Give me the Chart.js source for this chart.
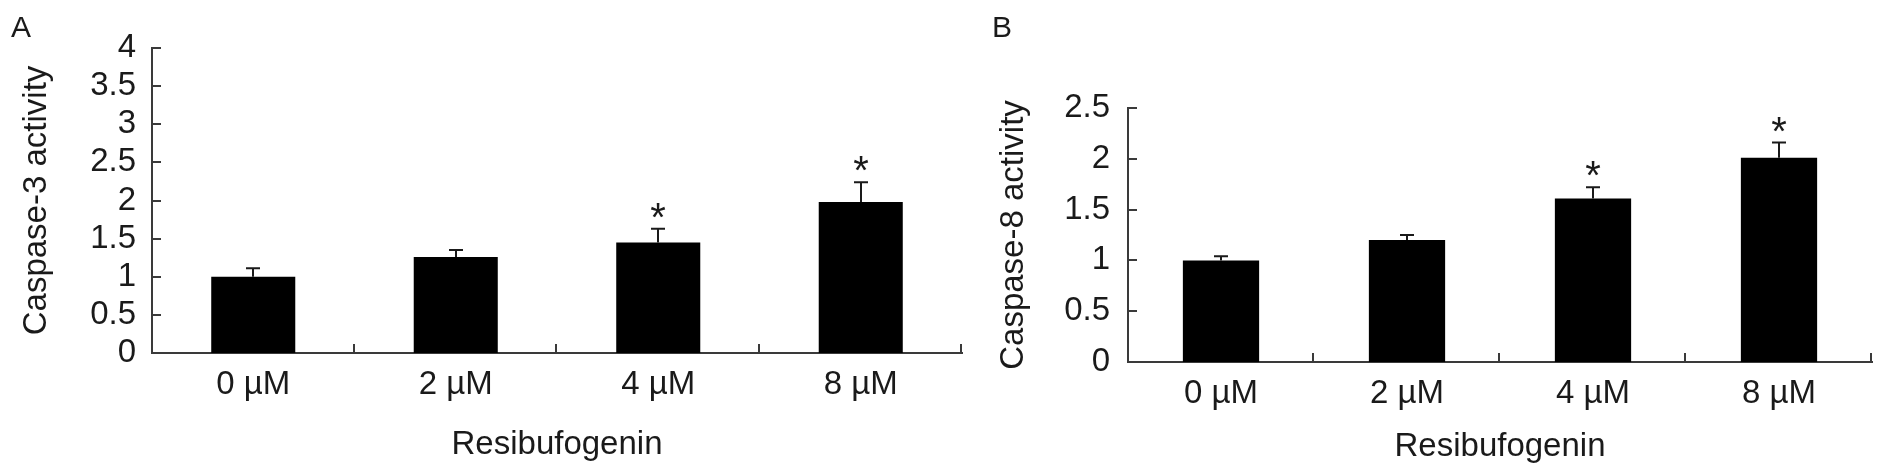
<!DOCTYPE html>
<html>
<head>
<meta charset="utf-8">
<script src="https://cdn.jsdelivr.net/npm/chart.js@4.4.1/dist/chart.umd.min.js"></script>
<style>
html,body{margin:0;padding:0;background:#fff;width:1885px;height:476px;overflow:hidden;}
.panel{position:absolute;top:0;height:476px;}
#wrapA{left:0;width:980px;}
#wrapB{left:980px;width:905px;}
.lab{position:absolute;font-family:"Liberation Sans",Arial,sans-serif;font-size:30px;color:#1a1a1a;line-height:30px;}
</style>
</head>
<body>
<div id="wrapA" class="panel"><canvas id="cA"></canvas></div>
<div id="wrapB" class="panel"><canvas id="cB"></canvas></div>
<div class="lab" style="left:11px;top:12px">A</div>
<div class="lab" style="left:992px;top:12px">B</div>
<script>
// ---- data ----
const categories = ['0 µM', '2 µM', '4 µM', '8 µM'];
const xAxisTitle = 'Resibufogenin';

const caspase3Title = 'Caspase-3 activity';
const caspase3Values = [1.00, 1.26, 1.45, 1.98];
const caspase3Errors = [0.11, 0.09, 0.18, 0.26];
const caspase3Marks = ['', '', '*', '*'];
const caspase3Ticks = ['0', '0.5', '1', '1.5', '2', '2.5', '3', '3.5', '4'];

const caspase8Title = 'Caspase-8 activity';
const caspase8Values = [1.00, 1.20, 1.61, 2.01];
const caspase8Errors = [0.04, 0.05, 0.11, 0.15];
const caspase8Marks = ['', '', '*', '*'];
const caspase8Ticks = ['0', '0.5', '1', '1.5', '2', '2.5'];

// ---- rendering ----
const FONT = '"Liberation Sans", Arial, Helvetica, sans-serif';
const TEXT = '#1a1a1a';
const AXIS = '#3a3a3a';
const FS = 33;

function extrasPlugin(errors, marks) {
  return {
    id: 'extras',
    afterDatasetsDraw(chart) {
      const ctx = chart.ctx;
      const xs = chart.scales.x, ys = chart.scales.y;
      const ca = chart.chartArea;
      const values = chart.data.datasets[0].data;
      const meta = chart.getDatasetMeta(0);
      ctx.save();
      ctx.strokeStyle = AXIS;
      ctx.lineWidth = 2;
      // inward y ticks
      ys.ticks.forEach(t => {
        const y = Math.round(ys.getPixelForValue(t.value));
        ctx.beginPath();
        ctx.moveTo(ca.left, y);
        ctx.lineTo(ca.left + 9, y);
        ctx.stroke();
      });
      // category boundary ticks on x axis
      const n = values.length;
      const step = (xs.right - xs.left) / n;
      for (let i = 1; i <= n; i++) {
        const x = Math.round(xs.left + step * i) - 1;
        ctx.beginPath();
        ctx.moveTo(x, ca.bottom);
        ctx.lineTo(x, ca.bottom - 9);
        ctx.stroke();
      }
      // error bars + significance marks
      ctx.strokeStyle = '#1a1a1a';
      ctx.fillStyle = TEXT;
      ctx.font = '40px ' + FONT;
      ctx.textAlign = 'center';
      ctx.textBaseline = 'alphabetic';
      meta.data.forEach((bar, i) => {
        const yTop = ys.getPixelForValue(values[i] + errors[i]);
        const x = Math.round(bar.x);
        ctx.beginPath();
        ctx.moveTo(x, bar.y);
        ctx.lineTo(x, yTop);
        ctx.moveTo(x - 7, yTop);
        ctx.lineTo(x + 7, yTop);
        ctx.stroke();
        if (marks[i]) ctx.fillText(marks[i], x, yTop + 2);
      });
      ctx.restore();
    }
  };
}

function makeChart(id, cfg) {
  return new Chart(document.getElementById(id), {
    type: 'bar',
    data: {
      labels: categories,
      datasets: [{
        data: cfg.values,
        backgroundColor: '#000',
        borderWidth: 0,
        barPercentage: cfg.barPct,
        categoryPercentage: 1.0
      }]
    },
    options: {
      responsive: true,
      maintainAspectRatio: false,
      animation: false,
      events: [],
      layout: { padding: { left: 0, right: cfg.padRight, top: cfg.padTop, bottom: 0 } },
      plugins: { legend: { display: false }, tooltip: { enabled: false } },
      scales: {
        x: {
          type: 'category',
          offset: true,
          grid: { display: false, drawTicks: false },
          border: { display: true, color: AXIS, width: 2 },
          ticks: { color: TEXT, font: { family: FONT, size: FS }, padding: cfg.xTickPad, maxRotation: 0, autoSkip: false },
          title: { display: true, text: xAxisTitle, color: TEXT, font: { family: FONT, size: FS }, padding: { top: 0, bottom: cfg.xTitlePad } },
          afterFit: s => { s.height = cfg.xHeight; }
        },
        y: {
          type: 'linear',
          min: 0,
          max: cfg.max,
          grid: { display: false, drawTicks: false },
          border: { display: true, color: AXIS, width: 2 },
          afterBuildTicks: s => { s.ticks = cfg.ticks.map(t => ({ value: parseFloat(t) })); },
          ticks: {
            color: TEXT, font: { family: FONT, size: FS }, padding: cfg.yTickPad,
            autoSkip: false,
            callback: (v, i) => cfg.ticks[i]
          },
          title: { display: true, text: cfg.yTitle, color: TEXT, font: { family: FONT, size: FS }, padding: { top: cfg.yTitlePad, bottom: 0 } },
          afterFit: s => { s.width = cfg.yWidth; }
        }
      }
    },
    plugins: [extrasPlugin(cfg.errors, cfg.marks)]
  });
}

makeChart('cA', {
  values: caspase3Values, errors: caspase3Errors, marks: caspase3Marks, ticks: caspase3Ticks,
  yTitle: caspase3Title, max: 4, barPct: 0.415,
  padRight: 18, padTop: 48, xHeight: 123, yWidth: 152,
  xTickPad: 12, xTitlePad: 11, yTickPad: 16, yTitlePad: 17
});

makeChart('cB', {
  values: caspase8Values, errors: caspase8Errors, marks: caspase8Marks, ticks: caspase8Ticks,
  yTitle: caspase8Title, max: 2.5, barPct: 0.41,
  padRight: 13, padTop: 108, xHeight: 114, yWidth: 148,
  xTickPad: 12, xTitlePad: 9, yTickPad: 18, yTitlePad: 14
});
</script>
</body>
</html>
